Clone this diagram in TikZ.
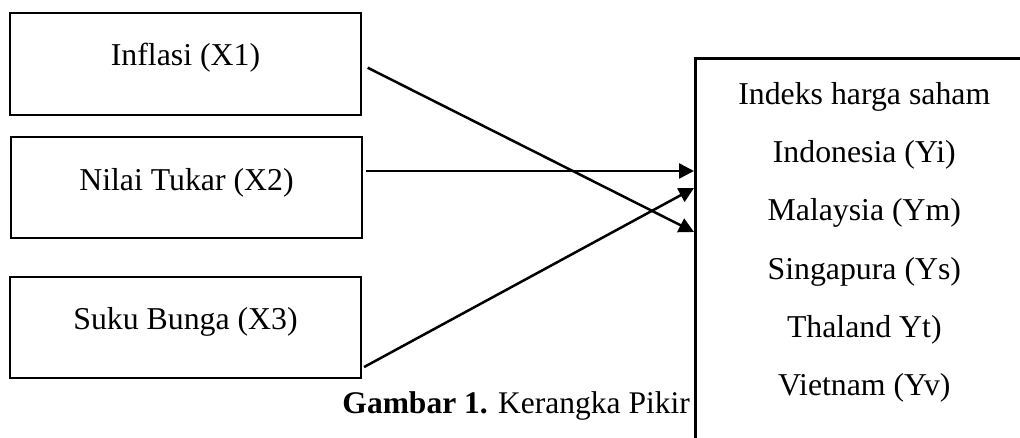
\documentclass[tikz,border=0pt]{standalone}
\usepackage{fontspec}
\setmainfont{Liberation Serif}
\usetikzlibrary{arrows.meta}
\begin{document}
\begin{tikzpicture}[x=1pt,y=-1pt,
  varbox/.style={draw, line width=2.6pt, minimum width=351pt, inner sep=0pt,
    font=\fontsize{31.8}{38}\selectfont},
  link/.style={line width=2.5pt, -{Triangle[length=15pt,width=15pt]}}]
\useasboundingbox (0,0) rectangle (1020,437);
\clip (0,0) rectangle (1020,437);
\node[varbox, text height=52pt, text depth=50pt] (X1) at (185.5,64) {Inflasi (X1)};
\node[varbox, text height=53pt, text depth=48pt] (X2) at (186.5,187.5) {Nilai Tukar (X2)};
\node[varbox, text height=52pt, text depth=49pt] (X3) at (185.5,327.5) {Suku Bunga (X3)};
\node[draw, line width=2.6pt, anchor=north west, minimum width=338pt, minimum height=420pt, inner sep=0pt,
  label={[anchor=north, inner sep=0pt, yshift=-25pt, align=center, font=\fontsize{31.8}{58.3}\selectfont]north:Indeks harga saham\\Indonesia (Yi)\\Malaysia (Ym)\\Singapura (Ys)\\Thaland Yt)\\Vietnam (Yv)}]
  (Y) at (694,57) {};
\node[anchor=base east, inner sep=0pt, font=\fontsize{31.5}{38}\selectfont] (cap) at (690,413) {\textbf{Gambar 1.} Kerangka Pikir};
\draw[link, shorten <=6pt] ([yshift=-1pt]X1.east) -- ([yshift=-175pt]Y.north west);
\draw[link, shorten <=3pt] ([yshift=16.5pt]X2.east) -- ([yshift=-114pt]Y.north west);
\draw[link, shorten <=2pt] ([yshift=-40.5pt]X3.east) -- ([yshift=-131pt]Y.north west);
\end{tikzpicture}
\end{document}
